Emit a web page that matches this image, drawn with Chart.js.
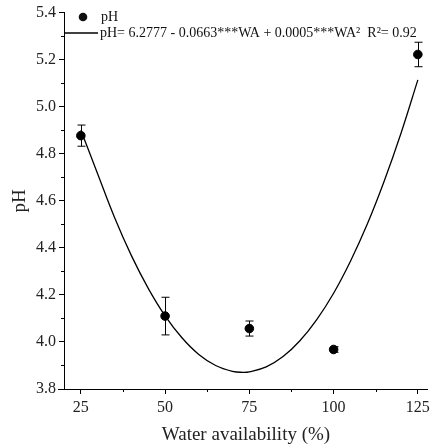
<!DOCTYPE html>
<html>
<head>
<meta charset="utf-8">
<script src="https://cdn.jsdelivr.net/npm/chart.js@4/dist/chart.umd.min.js"></script>
<style>
  html, body { margin: 0; padding: 0; background: #fff; }
  #wrap { width: 434px; height: 446px; }
</style>
</head>
<body>
<div id="wrap"><canvas id="ph_chart"></canvas></div>
<script>
// values
var waterAvail = [25, 50, 75, 100, 125];
var phMean = [4.877, 4.110, 4.057, 3.968, 5.222];
var phErr = [0.045, 0.080, 0.032, 0.012, 0.052];

// fitted curve
var fitX = [25, 30, 35, 40, 45, 50, 55, 60, 65, 70, 73, 75, 80, 85, 90, 95, 100, 105, 110, 115, 120, 125];
var fitPH = [4.90, 4.714, 4.529, 4.367, 4.228, 4.111, 4.018, 3.947, 3.900, 3.875, 3.871, 3.873, 3.894, 3.938, 4.005, 4.095, 4.207, 4.343, 4.501, 4.683, 4.887, 5.114];

var xTicks = [25, 50, 75, 100, 125];
var xMinor = [37.5, 62.5, 87.5, 112.5];
var yMinor = [3.9, 4.1, 4.3, 4.5, 4.7, 4.9, 5.1, 5.3];

var seriesLabel = 'pH';
var fitLabel = 'pH= 6.2777 - 0.0663***WA + 0.0005***WA\u00B2  R\u00B2= 0.92';

var serif = '"Liberation Serif", "DejaVu Serif", serif';

// error bars, minor ticks and the legend box
var extras = {
    id: 'extras',
    afterDatasetsDraw: function (chart) {
        var ctx = chart.ctx;
        var xs = chart.scales.x, ys = chart.scales.y;
        ctx.save();
        ctx.strokeStyle = '#000';
        ctx.lineWidth = 1;
        for (var i = 0; i < waterAvail.length; i++) {
            var px = Math.round(xs.getPixelForValue(waterAvail[i])) + 0.5;
            var top = ys.getPixelForValue(phMean[i] + phErr[i]);
            var bot = ys.getPixelForValue(phMean[i] - phErr[i]);
            ctx.beginPath();
            ctx.moveTo(px, top); ctx.lineTo(px, bot);
            ctx.moveTo(px - 4, top); ctx.lineTo(px + 4, top);
            ctx.moveTo(px - 4, bot); ctx.lineTo(px + 4, bot);
            ctx.stroke();
        }
        ctx.restore();
    },
    afterDraw: function (chart) {
        var ctx = chart.ctx;
        var xs = chart.scales.x, ys = chart.scales.y;
        var area = chart.chartArea;
        ctx.save();
        ctx.strokeStyle = '#000';
        ctx.lineWidth = 1;
        ctx.beginPath();
        xMinor.forEach(function (v) {
            var px = Math.round(xs.getPixelForValue(v)) + 0.5;
            ctx.moveTo(px, area.bottom); ctx.lineTo(px, area.bottom + 3);
        });
        yMinor.forEach(function (v) {
            var py = Math.round(ys.getPixelForValue(v)) + 0.5;
            ctx.moveTo(area.left, py); ctx.lineTo(area.left - 3, py);
        });
        // x axis runs a little past the y axis
        ctx.moveTo(area.left - 6, area.bottom + 0.5); ctx.lineTo(area.left, area.bottom + 0.5);
        ctx.stroke();

        ctx.fillStyle = '#111';
        ctx.font = '14px ' + serif;
        ctx.textBaseline = 'middle';
        ctx.beginPath();
        ctx.arc(83, 17, 4.3, 0, Math.PI * 2);
        ctx.fill();
        ctx.fillText(seriesLabel, 101, 17);
        ctx.lineWidth = 1.3;
        ctx.beginPath();
        ctx.moveTo(area.left, 33); ctx.lineTo(98, 33);
        ctx.stroke();
        ctx.fillText(fitLabel, 100, 33);
        ctx.restore();
    }
};

new Chart(document.getElementById('ph_chart'), {
    type: 'scatter',
    data: {
        datasets: [
            {
                label: seriesLabel,
                data: waterAvail.map(function (x, i) { return { x: x, y: phMean[i] }; }),
                backgroundColor: '#000',
                borderColor: '#000',
                pointRadius: 4.3,
                pointHoverRadius: 4.3,
                order: 0
            },
            {
                label: fitLabel,
                data: fitX.map(function (x, i) { return { x: x, y: fitPH[i] }; }),
                showLine: true,
                borderColor: '#000',
                borderWidth: 1.3,
                pointRadius: 0,
                tension: 0.4,
                fill: false,
                order: 1
            }
        ]
    },
    options: {
        responsive: true,
        maintainAspectRatio: false,
        animation: false,
        events: [],
        layout: { padding: { top: 10, right: 2, left: 0, bottom: 0 } },
        plugins: {
            legend: { display: false },
            tooltip: { enabled: false }
        },
        scales: {
            x: {
                type: 'linear',
                min: 20,
                max: 128,
                afterBuildTicks: function (scale) {
                    scale.ticks = xTicks.map(function (v) { return { value: v }; });
                },
                afterFit: function (scale) { scale.height = 57; },
                border: { color: '#000', width: 1 },
                grid: { drawOnChartArea: false, drawTicks: true, tickLength: 5, color: '#000' },
                ticks: { color: '#222', font: { family: serif, size: 16 }, padding: 4, maxRotation: 0 },
                title: {
                    display: true,
                    text: 'Water availability (%)',
                    color: '#222',
                    font: { family: serif, size: 19 },
                    padding: { top: 0, bottom: 0 }
                }
            },
            y: {
                min: 3.8,
                max: 5.4,
                afterFit: function (scale) { scale.width = 64; },
                border: { color: '#000', width: 1 },
                grid: { drawOnChartArea: false, drawTicks: true, tickLength: 5, color: '#000' },
                ticks: {
                    stepSize: 0.2,
                    color: '#222',
                    font: { family: serif, size: 16 },
                    padding: 3,
                    callback: function (v) { return v.toFixed(1); }
                },
                title: {
                    display: true,
                    text: 'pH',
                    color: '#222',
                    font: { family: serif, size: 19 },
                    padding: { top: 9, bottom: 0 }
                }
            }
        }
    },
    plugins: [extras]
});
</script>
</body>
</html>
